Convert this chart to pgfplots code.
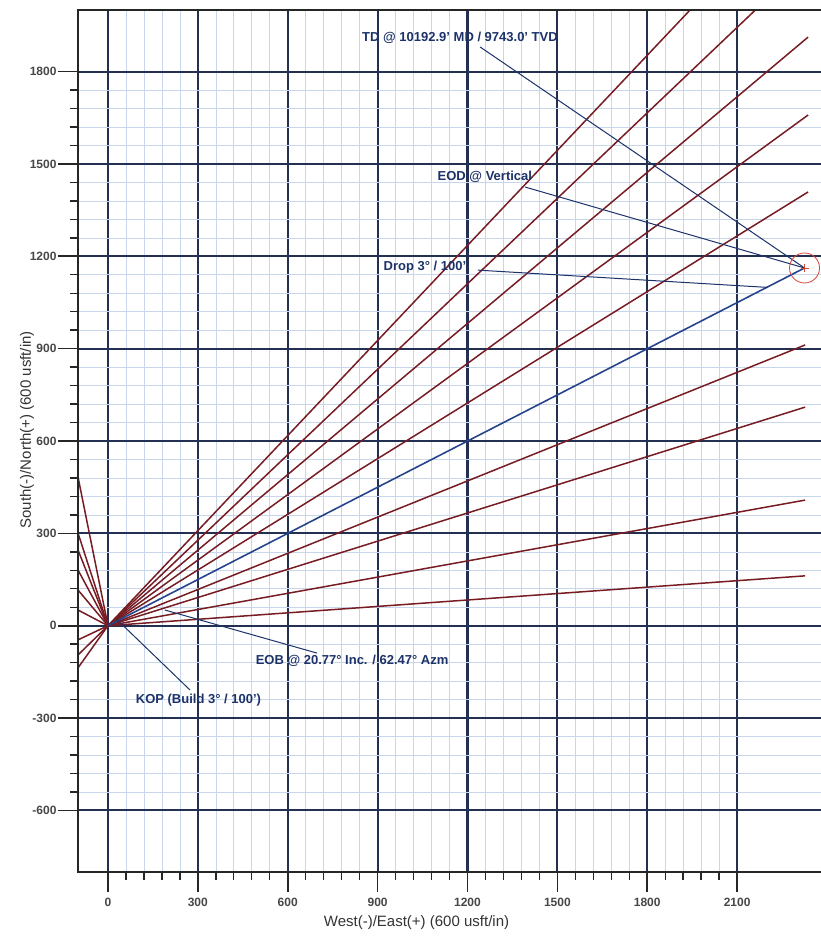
\documentclass[border=0pt]{standalone}
\usepackage{pgfplots}
\pgfplotsset{compat=1.18}
\usepackage{fontspec}
\setmainfont{Liberation Sans}
\definecolor{navy}{RGB}{28,50,105}
\definecolor{gridmaj}{RGB}{36,48,82}
\definecolor{gridmin}{RGB}{200,214,236}
\definecolor{maroon}{RGB}{118,28,34}
\definecolor{pathblue}{RGB}{38,68,140}
\definecolor{tgtred}{RGB}{215,70,50}
\begin{document}
\begin{tikzpicture}
\useasboundingbox (-78pt,-68pt) rectangle (743pt,872pt);
\begin{axis}[
  name=ax,
  at={(0pt,0pt)}, anchor=south west,
  scale only axis, width=743pt, height=862pt,
  xmin=-100, xmax=2380, ymin=-800, ymax=2000,
  xtick={0,300,...,2100}, ytick={-600,-300,...,1800},
  minor tick num=4,
  grid=both,
  major grid style={gridmaj, line width=2.1pt},
  minor grid style={gridmin, line width=0.6pt},
  axis line style={draw=none},
  xtick pos=bottom, ytick pos=left,
  tick align=outside,
  major tick length=20pt, minor tick length=8pt,
  every tick/.style={black!85, line width=1.6pt},
  minor tick style={black!85, line width=1.4pt},
  /pgf/number format/assume math mode=true,
  /pgf/number format/1000 sep={},
  ticklabel style={font=\fontsize{12}{14}\selectfont\bfseries, text=black!72},
  xticklabel style={yshift=-3pt},
  yticklabel style={xshift=2pt},
  xlabel={West(-)/East(+) (600 usft/in)},
  ylabel={South(-)/North(+) (600 usft/in)},
  label style={font=\fontsize{15}{17}\selectfont, text=black!80},
  xlabel style={at={(axis description cs:0.4556,-0.0592)}, anchor=center},
  ylabel style={at={(axis description cs:-0.0686,0.513)}, anchor=center},
  clip=false,
]
% fan of lines to the north-east
\addplot[maroon, line width=1.5pt] coordinates {(0,0) (1943,2000)};
\addplot[maroon, line width=1.5pt] coordinates {(0,0) (2161,2000)};
\addplot[maroon, line width=1.5pt] coordinates {(0,0) (2337,1912)};
\addplot[maroon, line width=1.5pt] coordinates {(0,0) (2337,1659)};
\addplot[maroon, line width=1.5pt] coordinates {(0,0) (2337,1409)};
\addplot[maroon, line width=1.5pt] coordinates {(0,0) (2327,912)};
\addplot[maroon, line width=1.5pt] coordinates {(0,0) (2327,710)};
\addplot[maroon, line width=1.5pt] coordinates {(0,0) (2327,408)};
\addplot[maroon, line width=1.5pt] coordinates {(0,0) (2327,162)};
% fan of lines to the west
\addplot[maroon, line width=1.5pt] coordinates {(0,0) (-100,483)};
\addplot[maroon, line width=1.5pt] coordinates {(0,0) (-100,301)};
\addplot[maroon, line width=1.5pt] coordinates {(0,0) (-100,246)};
\addplot[maroon, line width=1.5pt] coordinates {(0,0) (-100,181)};
\addplot[maroon, line width=1.5pt] coordinates {(0,0) (-100,116)};
\addplot[maroon, line width=1.5pt] coordinates {(0,0) (-100,51)};
\addplot[maroon, line width=1.5pt] coordinates {(0,0) (-100,-46)};
\addplot[maroon, line width=1.5pt] coordinates {(0,0) (-100,-95)};
\addplot[maroon, line width=1.5pt] coordinates {(0,0) (-100,-137)};
% well path
\addplot[pathblue, line width=1.6pt] coordinates {(0,0) (2325,1162)};
% target
\addplot[tgtred, line width=0.8pt, only marks, mark=o, mark size=15pt] coordinates {(2325,1162)};
\addplot[tgtred, line width=0.8pt, only marks, mark=+, mark size=4pt] coordinates {(2325,1162)};
% leaders
\addplot[navy, line width=1pt] coordinates {(1242,1880) (2325,1162)};
\addplot[navy, line width=1pt] coordinates {(1392,1425) (2325,1162)};
\addplot[navy, line width=1pt] coordinates {(1235,1155) (2200,1099)};
\addplot[navy, line width=1pt] coordinates {(698,-89) (190,51)};
\addplot[navy, line width=1pt] coordinates {(274,-209) (30,20)};
% annotations
\begin{scope}[every node/.style={font=\fontsize{13}{15}\selectfont\bfseries, text=navy, inner sep=1pt}]
\node at (axis cs:1175,1909) {TD @ 10192.9' MD / 9743.0' TVD};
\node at (axis cs:1258,1458) {EOD @ Vertical};
\node at (axis cs:1058,1165) {Drop 3° / 100'};
\node at (axis cs:815,-115) {EOB @ 20.77° Inc. / 62.47° Azm};
\node at (axis cs:302,-241) {KOP (Build 3° / 100')};
\end{scope}
\end{axis}
\draw[black!85, line width=1.8pt] (ax.north east) -- (ax.north west) -- (ax.south west) -- (ax.south east);
\end{tikzpicture}
\end{document}
